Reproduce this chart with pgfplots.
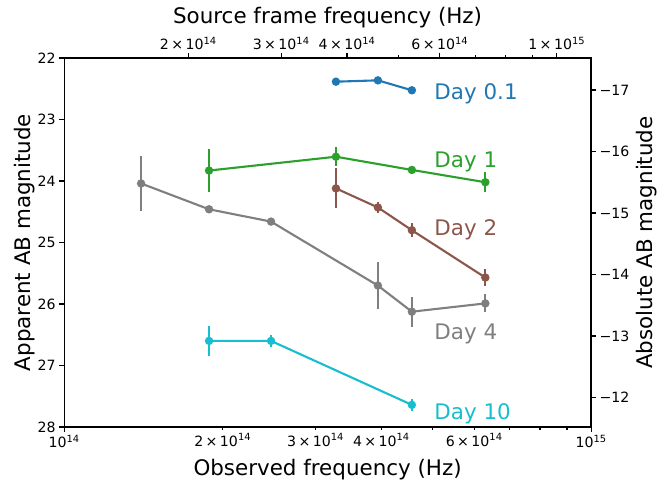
\documentclass[border=0pt]{standalone}
\usepackage{fontspec}
\setmainfont{DejaVu Sans}
\usepackage{pgfplots}
\pgfplotsset{compat=1.18}
\definecolor{tabblue}{HTML}{1F77B4}
\definecolor{tabgreen}{HTML}{2CA02C}
\definecolor{tabbrown}{HTML}{8C564B}
\definecolor{tabgray}{HTML}{7F7F7F}
\definecolor{tabcyan}{HTML}{17BECF}
\newcommand{\ticksize}{\fontsize{14.2}{16}\selectfont}
\newcommand{\labsize}{\fontsize{21.5}{25}\selectfont}
\newcommand{\tm}{\hspace{0.17em}×\hspace{0.17em}}
\pgfplotsset{
  common/.style={scale only axis, width=527bp, height=369bp, at={(0,0)}, anchor=south west,
    tick align=outside, major tick length=5bp, minor tick length=3.2bp,
    tick style={line width=1.1bp, black},
    axis line style={line width=1.15bp, black},
    tick label style={font=\ticksize},
    label style={font=\labsize},
  },
  series/.style={line width=2.1bp, mark=*, mark size=3.1bp, color=#1,
    mark options={solid, fill=#1, draw=none},
    error bars/.cd, y dir=both, y explicit, error mark=none,
    error bar style={line width=2.1bp, color=#1}},
}
\begin{document}
\begin{tikzpicture}
\useasboundingbox (-64bp,-56bp) rectangle (596bp,427bp);
% main axis
\begin{axis}[common,
  xmode=log, xmin=1e14, xmax=1e15,
  ymin=22, ymax=28, y dir=reverse,
  xtick pos=bottom, ytick pos=left,
  xtick={1e14,1e15}, xticklabels={10\textsuperscript{14},10\textsuperscript{15}},
  minor xtick={2e14,3e14,4e14,5e14,6e14,7e14,8e14,9e14},
  extra x ticks={2e14,3e14,4e14,6e14},
  extra x tick labels={2\tm10\textsuperscript{14},3\tm10\textsuperscript{14},4\tm10\textsuperscript{14},6\tm10\textsuperscript{14}},
  extra x tick style={major tick length=3.2bp},
  ytick={22,23,24,25,26,27,28}, yticklabels={22,23,24,25,26,27,28},
  xlabel={Observed frequency (Hz)},
  xlabel style={yshift=3.5bp},
  ylabel={Apparent AB magnitude},
  ylabel style={yshift=-4bp},
]
% Day 0.1
\addplot+[series=tabblue] table[x=f, y=m, y error=e] {
f m e
3.28e14 22.385 0
3.94e14 22.363 0
4.57e14 22.525 0
};
% Day 1
\addplot+[series=tabgreen] table[x=f, y=m, y error=e] {
f m e
1.884e14 23.83 0.345
3.28e14 23.605 0.15
4.57e14 23.82 0.06
6.30e14 24.02 0.16
};
% Day 2
\addplot+[series=tabbrown] table[x=f, y=m, y error=e] {
f m e
3.28e14 24.12 0.325
3.94e14 24.43 0.09
4.57e14 24.80 0.11
6.30e14 25.57 0.145
};
% Day 4
\addplot+[series=tabgray] table[x=f, y=m, y error=e] {
f m e
1.40e14 24.04 0.445
1.884e14 24.46 0.02
2.47e14 24.66 0.02
3.94e14 25.70 0.375
4.57e14 26.125 0.245
6.30e14 25.99 0.145
};
% Day 10
\addplot+[series=tabcyan] table[x=f, y=m, y error=e] {
f m e
1.884e14 26.60 0.24
2.47e14 26.60 0.10
4.57e14 27.64 0.10
};
\node[anchor=base west, inner sep=0, text=tabblue, font=\labsize] at (axis cs:5.04e14,22.67) {Day 0.1};
\node[anchor=base west, inner sep=0, text=tabgreen, font=\labsize] at (axis cs:5.04e14,23.78) {Day 1};
\node[anchor=base west, inner sep=0, text=tabbrown, font=\labsize] at (axis cs:5.04e14,24.88) {Day 2};
\node[anchor=base west, inner sep=0, text=tabgray, font=\labsize] at (axis cs:5.04e14,26.585) {Day 4};
\node[anchor=base west, inner sep=0, text=tabcyan, font=\labsize] at (axis cs:5.04e14,27.87) {Day 10};
\end{axis}
% top axis: source frame frequency
\begin{axis}[common,
  xmode=log, xmin=1.162e14, xmax=1.162e15,
  ymin=0, ymax=1,
  axis x line*=top, axis y line=none,
  xtick={1e15}, xticklabels={1\tm10\textsuperscript{15}},
  minor xtick={2e14,3e14,4e14,5e14,6e14,7e14,8e14,9e14},
  extra x ticks={2e14,3e14,4e14,6e14},
  extra x tick labels={2\tm10\textsuperscript{14},3\tm10\textsuperscript{14},4\tm10\textsuperscript{14},6\tm10\textsuperscript{14}},
  extra x tick style={major tick length=5bp},
  xlabel={Source frame frequency (Hz)},
  xlabel style={yshift=-8bp},
]
\end{axis}
% right axis: absolute magnitude
\begin{axis}[common,
  xmin=0, xmax=1,
  ymin=-17.52, ymax=-11.52, y dir=reverse,
  axis y line*=right, axis x line=none,
  ytick={-17,-16,-15,-14,-13,-12}, yticklabels={−17,−16,−15,−14,−13,−12},
  ylabel={Absolute AB magnitude},
]
\end{axis}
\end{tikzpicture}
\end{document}
